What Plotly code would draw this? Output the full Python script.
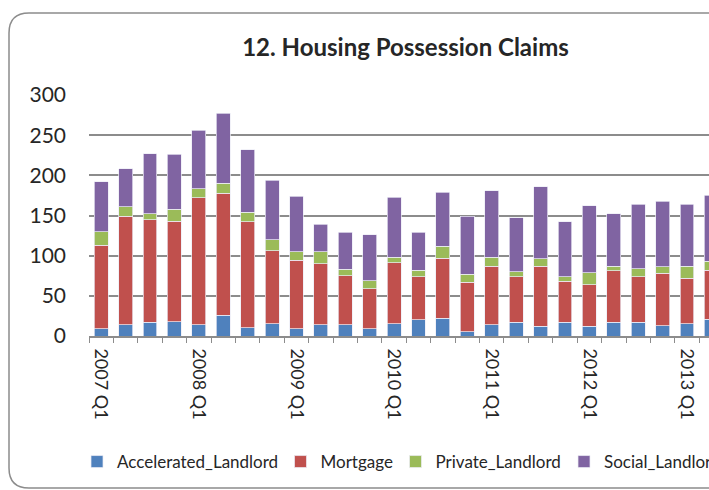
import plotly.graph_objects as go

quarters = [f"{y} Q{q}" for y in range(2007, 2014) for q in range(1, 5)][:26]
tick_labels = [c if c.endswith("Q1") else "" for c in quarters]

accelerated_landlord = [9, 14, 17, 18, 14, 26, 10, 15, 9, 14, 14, 9, 15, 20, 22, 5, 14,
                        17, 12, 17, 12, 17, 17, 13, 15, 21]
mortgage = [104, 135, 128, 125, 158, 152, 132, 91, 85, 76, 61, 50, 76, 54, 75, 62, 73,
            57, 75, 51, 52, 64, 57, 65, 57, 61]
private_landlord = [17, 12, 7, 15, 11, 12, 12, 14, 11, 15, 8, 10, 7, 8, 15, 10, 11,
                    6, 9, 6, 15, 6, 10, 8, 15, 11]
social_landlord = [62, 47, 75, 68, 73, 87, 78, 74, 69, 34, 46, 57, 75, 47, 67, 72, 83,
                   67, 90, 68, 83, 65, 80, 82, 77, 82]

series = [
    ("Accelerated_Landlord", accelerated_landlord, "#4F81BD", "legend"),
    ("Mortgage", mortgage, "#C0504D", "legend2"),
    ("Private_Landlord", private_landlord, "#9BBB59", "legend3"),
    ("Social_Landlord", social_landlord, "#8064A2", "legend4"),
]

W, H = 709, 490
PL, PR, PT, PB = 89, 709, 95, 336  # plot area in pixels


def px_x(x):
    return (x - PL) / (PR - PL)


def px_y(y):
    return (PB - y) / (PB - PT)


fig = go.Figure()
for name, vals, color, lg in series:
    fig.add_trace(go.Bar(
        x=quarters, y=vals, name=name, legend=lg,
        marker=dict(color=color, line=dict(color="rgba(235,235,245,0.9)", width=0.8)),
    ))

font_family = "Lato, 'Open Sans', sans-serif"
legend_text_x = [115, 318.5, 433.5, 602]
legend_y = px_y(462)
legend_common = dict(orientation="h", xanchor="left", yanchor="middle",
                     font=dict(family=font_family, size=17, color="#262626"),
                     bgcolor="rgba(0,0,0,0)", borderwidth=0)
legends = {}
for i, tx in enumerate(legend_text_x):
    key = "legend" if i == 0 else f"legend{i+1}"
    legends[key] = dict(x=px_x(tx - 38), y=legend_y, **legend_common)

# rounded frame
fl, ft, fr, fb, r = 9, 13, 740, 488, 20
frame_path = (
    f"M {px_x(fl)},{px_y(ft + r)} "
    f"Q {px_x(fl)},{px_y(ft)} {px_x(fl + r)},{px_y(ft)} "
    f"L {px_x(fr)},{px_y(ft)} L {px_x(fr)},{px_y(fb)} "
    f"L {px_x(fl + r)},{px_y(fb)} "
    f"Q {px_x(fl)},{px_y(fb)} {px_x(fl)},{px_y(fb - r)} Z"
)

fig.update_layout(
    width=W, height=H,
    showlegend=True,
    paper_bgcolor="white", plot_bgcolor="white",
    margin=dict(l=PL, r=W - PR, t=PT, b=H - PB, autoexpand=False),
    barmode="stack", bargap=0.43,
    title=dict(text="<b>12. Housing Possession Claims</b>", x=405.5 / W, xanchor="center",
               y=1 - 48 / H, yanchor="middle", xref="container", yref="container",
               font=dict(family=font_family, size=24, color="#262626")),
    xaxis=dict(
        type="category", range=[-0.5, 24.9],
        tickmode="array", tickvals=quarters, ticktext=tick_labels,
        tickson="boundaries", ticks="outside", ticklen=5, tickwidth=1.3, tickcolor="#8c8c8c",
        tickangle=90, ticklabelstandoff=7,
        tickfont=dict(family=font_family, size=18, color="#262626"),
        showline=True, linecolor="#8c8c8c", linewidth=1.6,
        showgrid=False,
    ),
    yaxis=dict(
        range=[0, 300], tickvals=[0, 50, 100, 150, 200, 250, 300],
        showgrid=True, gridcolor="#8c8c8c", gridwidth=1.5,
        zeroline=False, showline=False, ticks="",
        ticklabelstandoff=22,
        tickfont=dict(family=font_family, size=21, color="#262626"),
    ),
    shapes=[dict(type="path", xref="paper", yref="paper", path=frame_path,
                 line=dict(color="#8c8c8c", width=1.5), fillcolor="rgba(0,0,0,0)",
                 layer="below")],
    **legends,
)

# remove the default 8px page margin so the figure sits at the window origin
fig.write_html("out.html", config={"displayModeBar": False},
               post_script="document.body.style.margin='0';")
